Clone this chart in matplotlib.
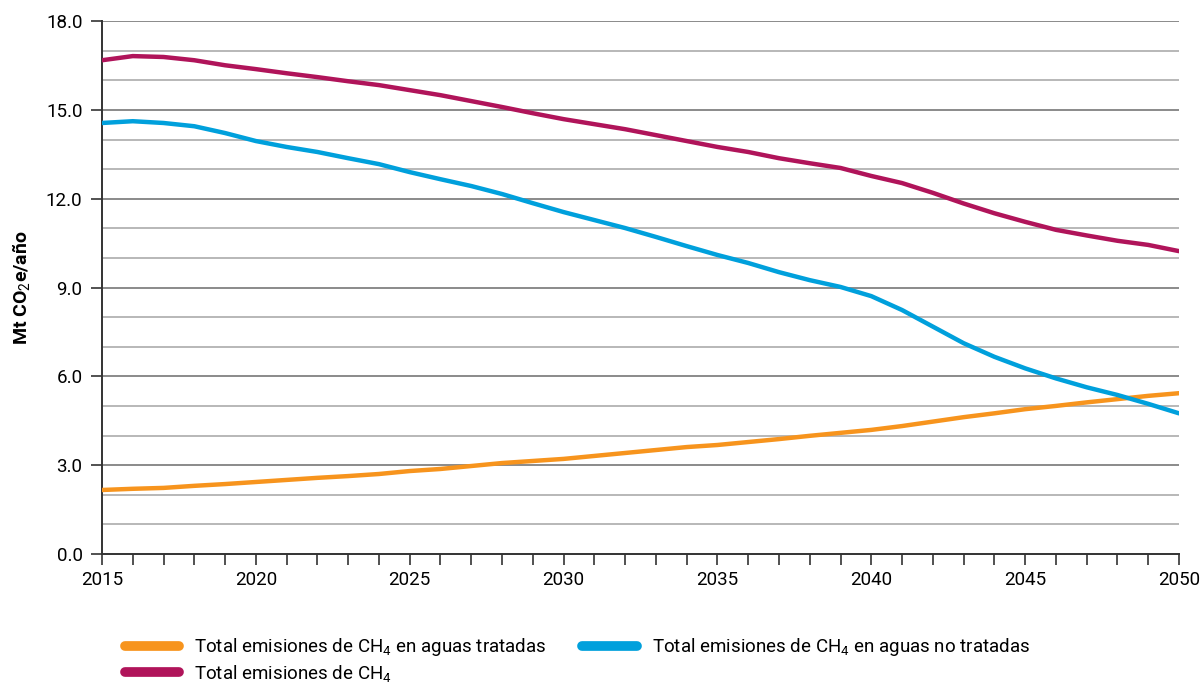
import numpy as np
import matplotlib.pyplot as plt
from matplotlib.ticker import MultipleLocator, FormatStrFormatter

plt.rcParams['font.family'] = ['Roboto', 'DejaVu Sans']
plt.rcParams['mathtext.fontset'] = 'custom'
plt.rcParams['mathtext.rm'] = 'Roboto'
plt.rcParams['mathtext.bf'] = 'Roboto:bold'
plt.rcParams['mathtext.default'] = 'rm'

years = np.arange(2015, 2051)

total_ch4 = [16.68, 16.82, 16.79, 16.68, 16.51, 16.38, 16.24, 16.11, 15.97, 15.84,
             15.67, 15.50, 15.30, 15.10, 14.89, 14.69, 14.52, 14.35, 14.15, 13.95,
             13.75, 13.58, 13.37, 13.20, 13.04, 12.77, 12.53, 12.20, 11.84, 11.51,
             11.22, 10.95, 10.76, 10.58, 10.44, 10.23]
no_tratadas = [14.56, 14.62, 14.56, 14.45, 14.22, 13.95, 13.75, 13.58, 13.37, 13.17,
               12.90, 12.66, 12.43, 12.16, 11.85, 11.55, 11.28, 11.01, 10.71, 10.40,
               10.10, 9.83, 9.52, 9.25, 9.02, 8.71, 8.24, 7.68, 7.12, 6.66,
               6.27, 5.93, 5.63, 5.37, 5.07, 4.75]
tratadas = [2.16, 2.20, 2.23, 2.30, 2.36, 2.43, 2.50, 2.57, 2.63, 2.70,
            2.80, 2.87, 2.97, 3.07, 3.14, 3.21, 3.31, 3.41, 3.51, 3.61,
            3.68, 3.78, 3.88, 3.99, 4.09, 4.19, 4.32, 4.47, 4.62, 4.75,
            4.89, 5.00, 5.12, 5.23, 5.34, 5.43]

fig = plt.figure(figsize=(12, 6.83), dpi=100)
ax = fig.add_axes([0.085, 0.189, 0.8975, 0.780])

# lineas de rejilla: cada 1 clara, cada 3 oscura
for v in range(1, 19):
    if v % 3 == 0:
        ax.axhline(v, color='#8a8a8a', lw=1.4, zorder=1)
    else:
        ax.axhline(v, color='#b8b8b8', lw=1.4, zorder=1)

l1, = ax.plot(years, tratadas, color='#f7941d', lw=3.2, solid_capstyle='round', zorder=3)
l2, = ax.plot(years, no_tratadas, color='#00a0dc', lw=3.2, solid_capstyle='round', zorder=3)
l3, = ax.plot(years, total_ch4, color='#b0145a', lw=3.2, solid_capstyle='round', zorder=3)

ax.set_xlim(2015, 2050)
ax.set_ylim(0, 18)
ax.xaxis.set_major_locator(MultipleLocator(5))
ax.xaxis.set_minor_locator(MultipleLocator(1))
ax.yaxis.set_major_locator(MultipleLocator(3))
ax.yaxis.set_major_formatter(FormatStrFormatter('%.1f'))

for s in ['top', 'right']:
    ax.spines[s].set_visible(False)
ax.spines['left'].set_color('#333333')
ax.spines['bottom'].set_color('#333333')
ax.spines['left'].set_linewidth(1.4)
ax.spines['bottom'].set_linewidth(1.4)

ax.tick_params(axis='x', which='both', direction='out', length=8, width=1.2,
               color='#333333', labelsize=13.5, pad=4)
ax.tick_params(axis='y', which='major', direction='out', length=8, width=1.2,
               color='#333333', labelsize=13.5, pad=6)

ax.set_ylabel('Mt CO$_2$e/año', fontsize=14, fontweight='bold', labelpad=10)

leg = fig.legend([l1, l3, l2],
                 ['Total emisiones de CH$_4$ en aguas tratadas',
                  'Total emisiones de CH$_4$',
                  'Total emisiones de CH$_4$ en aguas no tratadas'],
                 ncol=2, loc='upper left', bbox_to_anchor=(0.09, 0.093),
                 frameon=False, fontsize=13.5, handlelength=2.9,
                 columnspacing=1.9, labelspacing=0.25, handletextpad=0.8)
for h in leg.legend_handles:
    h.set_linewidth(7)
    h.set_solid_capstyle('round')

fig.savefig('out.png', dpi=100)
